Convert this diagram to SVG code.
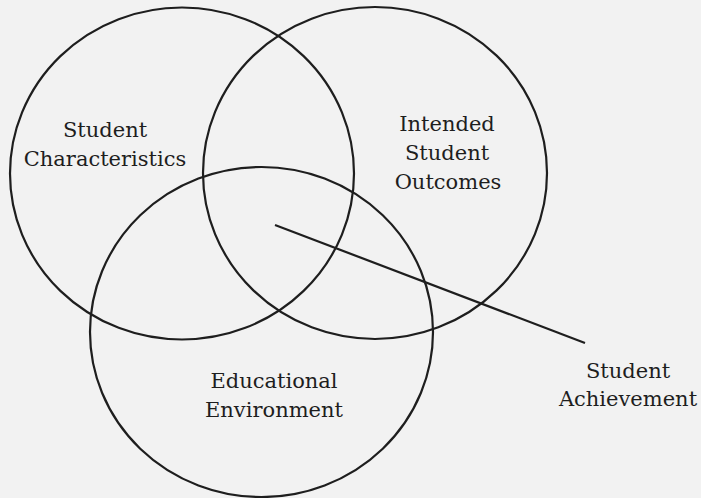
<svg xmlns="http://www.w3.org/2000/svg" width="701" height="498" viewBox="0 0 701 498">
  <style>
    .ring { fill: none; stroke: #1e1e1e; stroke-width: 2.2; }
    .lead { stroke: #1e1e1e; stroke-width: 2.2; fill: none; }
    .label { font-family: "DejaVu Serif", "Liberation Serif", serif; font-size: 21px; fill: #1e1e1e; text-anchor: middle; }
  </style>
  <rect x="0" y="0" width="701" height="498" fill="#f2f2f2"/>

  <g id="student-characteristics">
    <ellipse class="ring" cx="182" cy="173.5" rx="172" ry="166"/>
    <text class="label" x="105" y="137">Student</text>
    <text class="label" x="105" y="166">Characteristics</text>
  </g>

  <g id="intended-student-outcomes">
    <ellipse class="ring" cx="375" cy="173" rx="172" ry="166"/>
    <text class="label" x="447" y="131">Intended</text>
    <text class="label" x="447" y="160">Student</text>
    <text class="label" x="448" y="189">Outcomes</text>
  </g>

  <g id="educational-environment">
    <ellipse class="ring" cx="261.5" cy="332" rx="171.5" ry="165"/>
    <text class="label" x="274" y="388">Educational</text>
    <text class="label" x="274" y="417">Environment</text>
  </g>

  <g id="connectors">
    <line class="lead" x1="275" y1="225" x2="585" y2="343"/>
  </g>

  <g id="student-achievement">
    <text class="label" x="628" y="378">Student</text>
    <text class="label" x="628" y="406">Achievement</text>
  </g>
</svg>
